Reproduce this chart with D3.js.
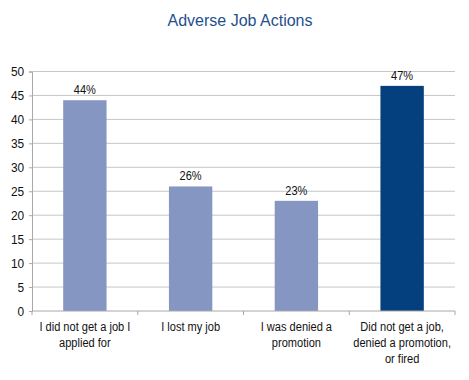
<!DOCTYPE html>
<html><head><meta charset="utf-8">
<script src="https://cdn.jsdelivr.net/npm/d3@7"></script>
<style>
html,body{margin:0;padding:0;background:#fff;}
svg text{font-family:"Liberation Sans",Arial,sans-serif;}
</style></head>
<body>
<script>
const categories = [
  ["I did not get a job I", "applied for"],
  ["I lost my job"],
  ["I was denied a", "promotion"],
  ["Did not get a job,", "denied a promotion,", "or fired"]
];
const values = [44, 26, 23, 47];
const valueLabels = ["44%", "26%", "23%", "47%"];
const highlight = [false, false, false, true];
const yTicks = [0, 5, 10, 15, 20, 25, 30, 35, 40, 45, 50];
const title = "Adverse Job Actions";

const W = 469, H = 380;
const m = {left: 32, right: 14, top: 71.5, bottom: 69};
const svg = d3.select("body").append("svg").attr("width", W).attr("height", H);

const x = d3.scaleBand().domain(d3.range(values.length)).range([m.left, W - m.right]).paddingInner(0.59).paddingOuter(0.295);
const xOuter = d3.scaleBand().domain(d3.range(values.length)).range([m.left, W - m.right]);
const y = d3.scaleLinear().domain([0, 50]).range([H - m.bottom, m.top]);

svg.append("text").attr("x", 240).attr("y", 26).attr("text-anchor", "middle")
  .attr("font-size", 16).attr("fill", "#1f4f8f").text(title);

// gridlines
svg.append("g").selectAll("line").data(yTicks.filter(d => d > 0)).join("line")
  .attr("x1", m.left).attr("x2", W - m.right)
  .attr("y1", d => y(d)).attr("y2", d => y(d))
  .attr("stroke", "#c6c6c6").attr("stroke-width", 1);

// y axis
const ya = svg.append("g").attr("transform", `translate(${m.left},0)`)
  .call(d3.axisLeft(y).tickValues(yTicks).tickSize(3).tickPadding(6));
ya.select(".domain").attr("stroke", "#a8a8a8");
ya.selectAll(".tick line").attr("stroke", "#a8a8a8");
ya.selectAll("text").attr("font-size", 13.5).attr("fill", "#111")
  .attr("transform", "scale(0.88,1)");

// bars
svg.append("g").selectAll("rect").data(values).join("rect")
  .attr("x", (d, i) => x(i)).attr("width", x.bandwidth())
  .attr("y", d => y(d)).attr("height", d => y(0) - y(d))
  .attr("fill", (d, i) => highlight[i] ? "#043f7e" : "#8696c2");

// value labels
svg.append("g").selectAll("text").data(values).join("text")
  .attr("transform", (d, i) => `translate(${x(i) + x.bandwidth() / 2},${y(d) - 6}) scale(0.85,1)`)
  .attr("text-anchor", "middle").attr("font-size", 13).attr("fill", "#111")
  .text((d, i) => valueLabels[i]);

// x axis
const xa = svg.append("g").attr("transform", `translate(0,${y(0)})`);
xa.append("line").attr("x1", m.left).attr("x2", W - m.right).attr("stroke", "#a8a8a8");
const bounds = d3.range(values.length + 1).map(i => i < values.length ? xOuter(i) : xOuter(i - 1) + xOuter.bandwidth());
xa.selectAll("line.t").data(bounds).join("line").attr("class", "t")
  .attr("x1", d => d).attr("x2", d => d).attr("y1", 0).attr("y2", 4).attr("stroke", "#a8a8a8");

const lab = svg.append("g").selectAll("text").data(categories).join("text")
  .attr("text-anchor", "middle").attr("font-size", 13.5).attr("fill", "#111")
  .attr("transform", (d, i) => `translate(${xOuter(i) + xOuter.bandwidth() / 2},${y(0) + 20}) scale(0.82,1)`);
lab.selectAll("tspan").data(d => d).join("tspan")
  .attr("x", 0).attr("dy", (d, j) => j === 0 ? 0 : 16).text(d => d);
</script>
</body></html>
